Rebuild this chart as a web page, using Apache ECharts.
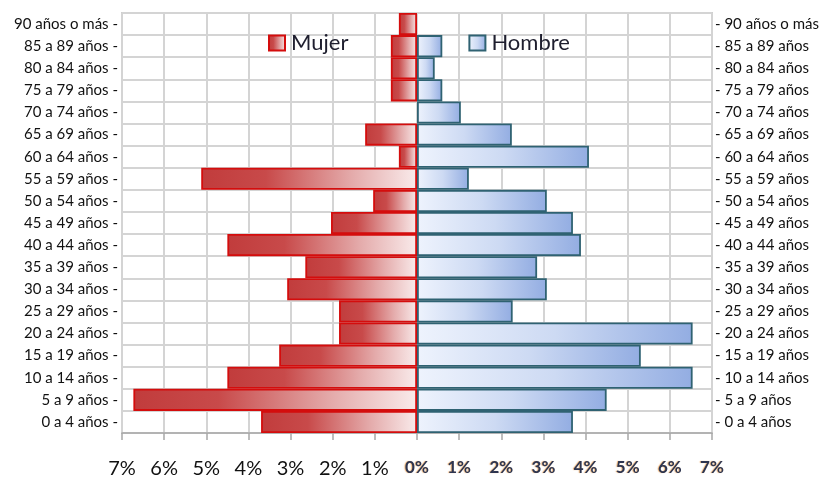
<!DOCTYPE html>
<html>
<head>
<meta charset="utf-8">
<script src="https://cdn.jsdelivr.net/npm/echarts@6/dist/echarts.min.js"></script>
<style>
    html, body { margin: 0; padding: 0; background: #ffffff; }
    #chart { width: 825px; height: 479px; }
</style>
</head>
<body>
<div id="chart"></div>
<script>
// age groups from bottom to top
const ageGroups = [
    "0 a 4 años", "5 a 9 años", "10 a 14 años", "15 a 19 años", "20 a 24 años",
    "25 a 29 años", "30 a 34 años", "35 a 39 años", "40 a 44 años", "45 a 49 años",
    "50 a 54 años", "55 a 59 años", "60 a 64 años", "65 a 69 años", "70 a 74 años",
    "75 a 79 años", "80 a 84 años", "85 a 89 años", "90 años o más"
];
// percentages
const mujer = [3.7, 6.73, 4.5, 3.27, 1.85, 1.85, 3.08, 2.65, 4.5, 2.04, 1.04, 5.12, 0.43, 1.23, 0, 0.62, 0.62, 0.62, 0.43];
const hombre = [3.7, 4.5, 6.54, 5.31, 6.54, 2.27, 3.08, 2.85, 3.89, 3.7, 3.08, 1.23, 4.08, 2.25, 1.04, 0.6, 0.42, 0.6, 0];

const chart = echarts.init(document.getElementById("chart"));

const gridLine = { color: "#d4d4d4", width: 2 };

const option = {
    backgroundColor: "#ffffff",
    animation: false,
    textStyle: { fontFamily: "Lato" },
    legend: {
        data: ["Mujer", "Hombre"],
        icon: "rect",
        left: 268,
        top: 32,
        padding: 0,
        itemWidth: 16,
        itemHeight: 15,
        itemGap: 120,
        textStyle: { fontSize: 22, color: "#1e1e2e", fontFamily: "Lato", padding: [0, 0, 0, 1] },
    },
    grid: {
        left: 122,
        right: 113,
        top: 13,
        bottom: 44,
        show: true,
        borderColor: "#a8a8a8",
        borderWidth: 1.5,
    },
    xAxis: {
        type: "value",
        min: -7,
        max: 7,
        interval: 1,
        axisLine: { show: true, lineStyle: { color: "#a8a8a8", width: 1.5 } },
        axisTick: { show: true, length: 7, lineStyle: { color: "#a8a8a8", width: 1.5 } },
        splitLine: { show: true, lineStyle: gridLine },
        axisLabel: {
            margin: 26,
            formatter: (v) => (v < 0 ? "{l|" + -v + "%}" : "{r|" + v + "%}"),
            rich: {
                l: { fontSize: 20, color: "#111111", fontFamily: "Lato" },
                r: {
                    fontSize: 17,
                    color: "#2d3550",
                    fontWeight: "bold",
                    fontFamily: "Lato",
                    textShadowColor: "rgba(235,150,60,0.7)",
                    textShadowOffsetX: -1,
                    textShadowBlur: 1,
                },
            },
        },
    },
    yAxis: [
        {
            type: "category",
            data: ageGroups,
            axisLine: { show: false },
            axisTick: { show: false },
            splitLine: { show: true, lineStyle: gridLine },
            axisLabel: {
                margin: 4,
                fontSize: 15,
                color: "#111111",
                formatter: (v) => v + " -",
            },
        },
        {
            type: "category",
            position: "right",
            data: ageGroups,
            axisLine: { show: false },
            axisTick: { show: false },
            splitLine: { show: false },
            axisLabel: {
                margin: 3,
                fontSize: 15,
                color: "#111111",
                formatter: (v) => "- " + v,
            },
        },
    ],
    series: [
        {
            name: "Mujer",
            type: "bar",
            stack: "pyramid",
            yAxisIndex: 0,
            barCategoryGap: "0%",
            z: 3,
            data: mujer.map((v) => (v === 0 ? "-" : -v)),
            itemStyle: {
                borderColor: "#d40d0d",
                borderWidth: 1.8,
                color: new echarts.graphic.LinearGradient(0, 0, 1, 0, [
                    { offset: 0, color: "#c13c3c" },
                    { offset: 0.3, color: "#c84a4a" },
                    { offset: 0.7, color: "#e4abab" },
                    { offset: 1, color: "#f9ebeb" },
                ]),
            },
        },
        {
            name: "Hombre",
            type: "bar",
            stack: "pyramid",
            yAxisIndex: 0,
            barCategoryGap: "0%",
            z: 2,
            data: hombre.map((v) => (v === 0 ? "-" : v)),
            itemStyle: {
                borderColor: "#2f6272",
                borderWidth: 1.8,
                color: new echarts.graphic.LinearGradient(0, 0, 1, 0, [
                    { offset: 0, color: "#eef3fd" },
                    { offset: 0.5, color: "#cddaf3" },
                    { offset: 1, color: "#93ade2" },
                ]),
            },
        },
    ],
};

chart.setOption(option);
</script>
</body>
</html>
